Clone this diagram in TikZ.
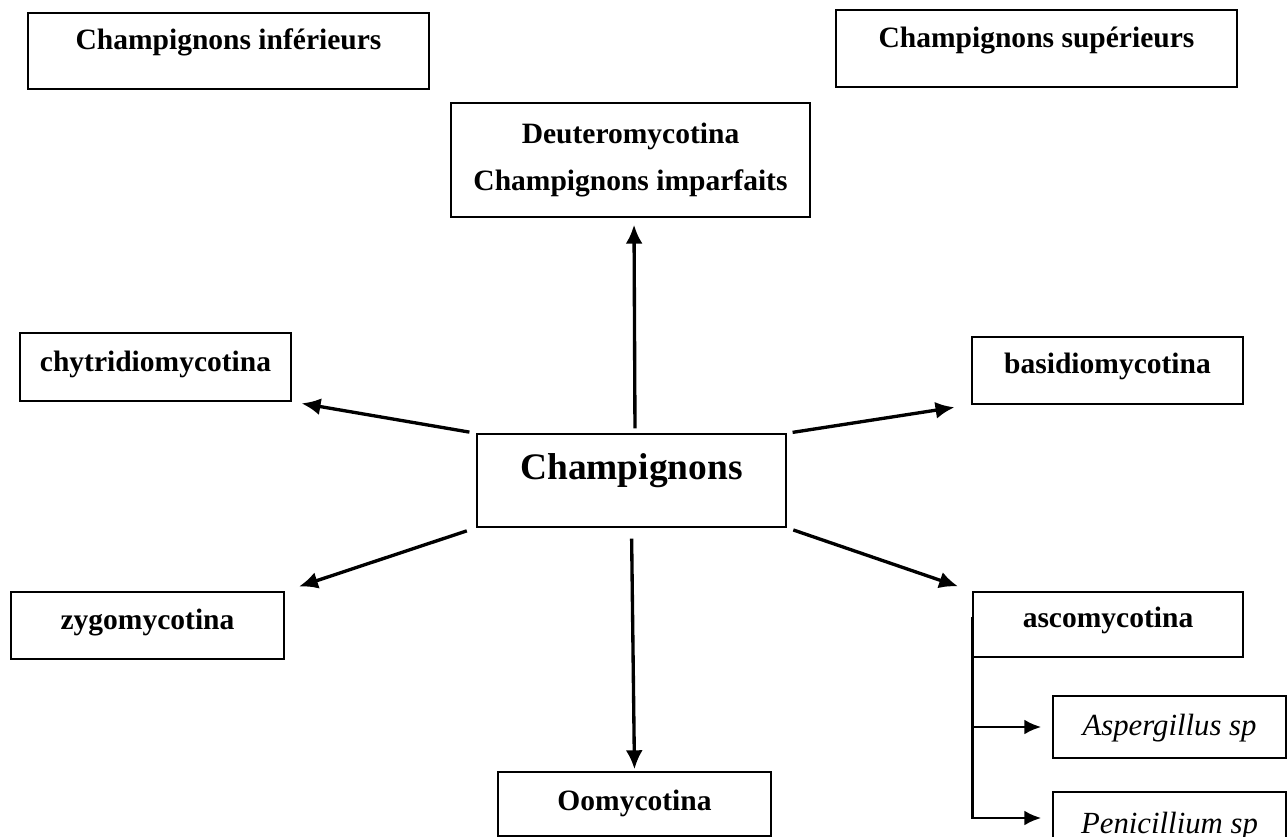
\documentclass[tikz,border=0pt]{standalone}
\usepackage{fontspec}
\setmainfont{Liberation Serif}
\usepackage{tikz}
\usetikzlibrary{arrows.meta}

\tikzset{
  taxon/.style={draw=black, inner sep=0pt, line width=0.8pt, font=\fontsize{16.8}{26.7}\selectfont\bfseries},
  genus/.style={draw=black, inner sep=0pt, line width=0.8pt, font=\fontsize{17.5}{20}\selectfont\itshape},
  link/.style={-{Latex[length=0.38cm,width=0.34cm]}, line width=1.9pt},
  twig/.style={-{Latex[length=0.34cm,width=0.3cm]}, line width=1.7pt}
}

\begin{document}
\begin{tikzpicture}[x=0.02cm,y=-0.02cm]
\clip (0,0) rectangle (1288,837);
\fill[white] (0,0) rectangle (1288,837);
% groupes
\node[taxon,minimum width=8.02cm,text height=0.74cm,text depth=0.78cm] (inf) at (228.5,51) {Champignons inférieurs};
\node[taxon,minimum width=8.02cm,text height=0.76cm,text depth=0.78cm] (sup) at (1036.5,48.5) {Champignons supérieurs};
% centre
\node[taxon,minimum width=6.18cm,text height=0.92cm,text depth=0.94cm,font=\fontsize{21.3}{25}\selectfont\bfseries] (champ) at (631.5,480.5) {Champignons};
% sous-divisions
\node[taxon,minimum width=7.18cm,minimum height=2.28cm,align=center] (deut) at (630.5,160) {Deuteromycotina\\Champignons imparfaits};
\node[taxon,minimum width=5.42cm,text height=0.78cm,text depth=0.58cm] (chy) at (155.5,367) {chytridiomycotina};
\node[taxon,minimum width=5.42cm,text height=0.74cm,text depth=0.60cm] (bas) at (1107.5,370.5) {basidiomycotina};
\node[taxon,minimum width=5.46cm,text height=0.76cm,text depth=0.58cm] (zyg) at (147.5,625.5) {zygomycotina};
\node[taxon,minimum width=5.40cm,text height=0.72cm,text depth=0.58cm] (asc) at (1108,624.5) {ascomycotina};
\node[taxon,minimum width=5.46cm,text height=0.76cm,text depth=0.52cm] (oomy) at (634.5,804) {Oomycotina};
% genres
\node[genus,minimum width=4.66cm,text height=0.78cm,text depth=0.46cm] (asp) at (1169.5,727) {Aspergillus sp};
\node[genus,minimum width=4.66cm,text height=0.82cm,text depth=0.42cm] (pen) at (1169.5,823) {Penicillium sp};
% fleches
\draw[link,shorten <=0.1cm,shorten >=0.14cm] ([xshift=0.07cm]champ.north) -- ([xshift=0.07cm]deut.south);
\draw[link,shorten <=0.22cm,shorten >=0.04cm] (champ.south) -- (oomy.north);
\draw[link,shorten <=0.14cm,shorten >=0.2cm] (champ.north west) -- (chy.south east);
\draw[link,shorten <=0.2cm,shorten >=0.3cm] (champ.south west) -- (zyg.north east);
\draw[link,shorten <=0.12cm,shorten >=0.34cm] (champ.north east) -- (bas.south west);
\draw[link,shorten <=0.14cm,shorten >=0.3cm] (champ.south east) -- (asc.north west);
\draw[twig,shorten >=0.22cm] ([yshift=0.15cm]asc.west) |- (asp.west);
\draw[twig,shorten >=0.22cm] ([yshift=0.15cm]asc.west) |- ([yshift=0.1cm]pen.west);
\end{tikzpicture}
\end{document}
